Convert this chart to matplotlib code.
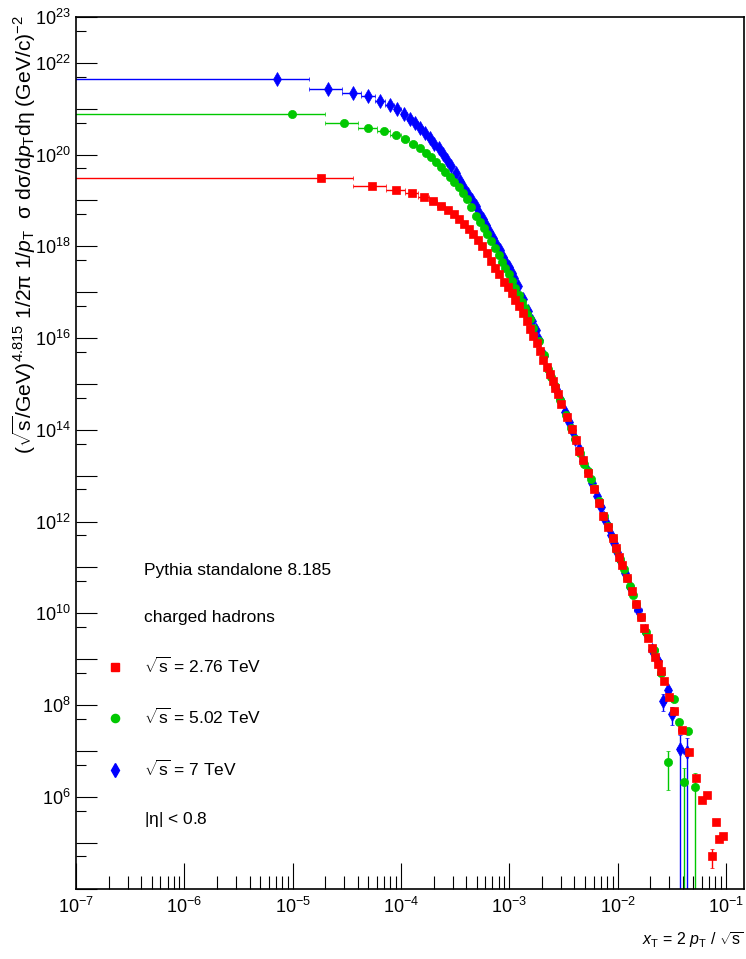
import numpy as np
import matplotlib
matplotlib.use('Agg')
import matplotlib.pyplot as plt
from matplotlib.lines import Line2D
from matplotlib.ticker import FixedLocator, FixedFormatter, LogLocator, NullFormatter

plt.rcParams['font.family'] = ['Liberation Sans', 'DejaVu Sans']
plt.rcParams['mathtext.fontset'] = 'custom'
plt.rcParams['mathtext.rm'] = 'Liberation Sans'
plt.rcParams['mathtext.it'] = 'Liberation Sans:italic'
plt.rcParams['mathtext.bf'] = 'Liberation Sans:bold'
plt.rcParams['mathtext.sf'] = 'Liberation Sans'

# pT bins (GeV/c), shared by all three energies
pt_center = [0.025, 0.075, 0.125, 0.175, 0.225, 0.275, 0.325, 0.375, 0.425, 0.475,
             0.53, 0.585, 0.645, 0.71, 0.78, 0.855, 0.935, 1.02, 1.12, 1.24,
             1.35, 1.46, 1.57, 1.71, 1.85, 2.0, 2.15, 2.3, 2.48, 2.65,
             2.85, 3.06, 3.28, 3.48, 3.68, 3.88, 4.18, 4.69, 5.2, 5.68,
             6.13, 6.6, 7.4, 8.4, 9.4, 10.2, 11.35, 12.4, 13.3, 14.2,
             15.3, 16.8, 18.7, 20.4, 22.6, 24.4, 26.5, 28.5, 30.6, 32.6,
             34.8, 37.1, 41.2, 45.9, 54.4, 63.1, 73.3, 83.2, 92.8, 103,
             112.5, 119.5, 131, 152]
pt_halfwidth = [0.025, 0.025, 0.025, 0.025, 0.025, 0.025, 0.025, 0.025, 0.025, 0.025,
                0.027, 0.028, 0.031, 0.034, 0.036, 0.038, 0.041, 0.045, 0.055, 0.058,
                0.055, 0.055, 0.06, 0.07, 0.07, 0.075, 0.075, 0.08, 0.09, 0.09,
                0.1, 0.1, 0.1, 0.1, 0.1, 0.12, 0.2, 0.25, 0.25, 0.24,
                0.23, 0.3, 0.45, 0.5, 0.45, 0.45, 0.55, 0.5, 0.45, 0.5,
                0.65, 0.85, 0.9, 0.95, 1.0, 1.0, 1.0, 1.0, 1.0, 1.1,
                1.1, 1.5, 2.2, 3.5, 4.3, 4.7, 5, 5, 5, 5,
                4, 4, 7, 12]

nan = np.nan
# log10 of the scaled cross section
log_y_276 = [19.50, 19.32, 19.23, 19.155, 19.07, 18.99, 18.89, 18.80, 18.70, 18.59,
             18.49, 18.38, 18.27, 18.14, 18.00, 17.85, 17.68, 17.53, 17.39, 17.23,
             17.12, 16.99, 16.84, 16.70, 16.54, 16.37, 16.20, 16.05, 15.90, 15.72,
             15.52, 15.37, 15.21, 15.07, 14.92, 14.79, 14.57, 14.28, 14.01, 13.77,
             13.54, 13.34, 13.06, 12.72, 12.41, 12.13, 11.88, 11.65, 11.43, 11.23,
             11.05, 10.78, 10.49, 10.20, 9.92, 9.67, 9.46, 9.25, 9.05, 8.89,
             8.74, 8.52, 8.17, 7.86, 7.45, 6.97, 6.42, 5.94, 6.03, 4.70,
             5.44, 5.09, 5.14, nan]
log_y_502 = [20.884, 20.688, 20.586, 20.509, 20.429, 20.339, 20.239, 20.136, 20.038, 19.938,
             19.838, 19.733, 19.622, 19.515, 19.401, 19.288, 19.161, 19.039, 18.865, 18.668,
             18.529, 18.392, 18.265, 18.112, 17.960, 17.805, 17.665, 17.532, 17.388, 17.251,
             17.085, 16.928, 16.784, 16.651, 16.527, 16.407, 16.224, 15.942, 15.64, 15.33,
             15.155, 14.956, 14.654, 14.319, 14.036, 13.798, 13.486, 13.259, 13.096, 12.926,
             12.727, 12.450, 12.112, 11.908, 11.639, 11.410, 11.174, 10.974, 10.773, 10.599,
             10.407, 10.210, 9.914, 9.585, 9.209, 8.692, 6.758, 8.141, 7.630, 6.322,
             7.434, nan, 6.213, nan]
log_y_7 = [21.648, 21.438, 21.353, 21.273, 21.174, 21.081, 20.991, 20.882, 20.784, 20.697,
           20.581, 20.479, 20.367, 20.241, 20.134, 20.010, 19.879, 19.752, 19.600, 19.430,
           19.281, 19.144, 19.017, 18.869, 18.725, 18.590, 18.457, 18.330, 18.187, 18.058,
           17.914, 17.776, 17.646, 17.543, 17.428, 17.310, 17.142, 16.858, 16.596, 16.370,
           16.173, 15.95, 15.60, 15.22, 14.90, 14.678, 14.396, 14.176, 13.997, 13.805,
           13.585, 13.323, 13.072, 12.841, 12.557, 12.324, 12.077, 11.903, 11.716, 11.530,
           11.334, 11.164, 10.871, 10.568, 10.063, 9.622, 9.199, 8.95, 8.089, 8.322,
           7.798, nan, 7.035, 6.976]

# relative stat. errors where visible (keyed by pT bin centre)
rel_err_276 = {103: 0.45, 119.5: 0.1, 131: 0.08}
rel_err_502 = {73.3: 0.75, 92.8: 0.1, 103: 1.05, 112.5: 0.12, 131: 1.05}
rel_err_7 = {83.2: 0.1, 92.8: 0.4, 103: 0.18, 112.5: 0.42, 131: 1.05, 152: 1.05}

series = [
    (7000, log_y_7, rel_err_7, '#0000ff', 'd', 7.0),
    (5020, log_y_502, rel_err_502, '#00c800', 'o', 5.9),
    (2760, log_y_276, rel_err_276, '#ff0000', 's', 5.6),
]

fig = plt.figure(figsize=(7.46, 9.59), dpi=100)
ax = fig.add_axes([0.1019, 0.0735, 0.8954, 0.9088])
ax.set_xscale('log')
ax.set_yscale('log')

pt = np.array(pt_center)
hw = np.array(pt_halfwidth)
handles = {}
for sqrt_s, logy, rel, col, mk, ms in series:
    x = 2 * pt / sqrt_s
    xe = 2 * hw / sqrt_s
    y = 10.0 ** np.array(logy)
    ye = np.array([rel.get(p, 0.0) for p in pt_center]) * y
    ax.errorbar(x, y, xerr=xe, yerr=ye, fmt=mk, color=col, ms=ms, mec=col, mew=0.5,
                ecolor=col, elinewidth=1.0, capsize=1.6, capthick=1.0)
    handles[sqrt_s] = Line2D([], [], ls='none', marker=mk, color=col, ms=ms, mec=col)

ax.set_xlim(1e-7, 0.147)
ax.set_ylim(1e4, 1e23)

# x ticks
ax.xaxis.set_major_locator(FixedLocator([10.0 ** k for k in range(-7, 0)]))
ax.xaxis.set_major_formatter(FixedFormatter([r'$10^{%d}$' % k for k in range(-7, 0)]))
ax.xaxis.set_minor_locator(LogLocator(base=10, subs=np.arange(2, 10), numticks=20))
ax.xaxis.set_minor_formatter(NullFormatter())

# y ticks: every decade, labels on even exponents + top
ymaj = list(range(4, 24))
ax.yaxis.set_major_locator(FixedLocator([10.0 ** k for k in ymaj]))
ax.yaxis.set_major_formatter(FixedFormatter(
    [r'$10^{%d}$' % k if (k % 2 == 0 and k >= 6) or k == 23 else '' for k in ymaj]))
ax.yaxis.set_minor_locator(FixedLocator([5 * 10.0 ** k for k in range(4, 23)]))
ax.yaxis.set_minor_formatter(NullFormatter())

ax.tick_params(axis='both', which='both', direction='in', top=False, right=False,
               width=0.8, labelsize=13)
ax.tick_params(axis='x', which='major', length=18.7, pad=6)
ax.tick_params(axis='x', which='minor', length=9.3)
ax.tick_params(axis='y', which='major', length=15, pad=4)
ax.tick_params(axis='y', which='minor', length=7.2)
for sp in ax.spines.values():
    sp.set_linewidth(1.2)

blank = Line2D([], [], ls='none', marker='')
leg_handles = [blank, blank, handles[2760], handles[5020], handles[7000], blank]
leg_labels = ['Pythia standalone 8.185', 'charged hadrons',
              r'$\sqrt{\mathrm{s}}$ = 2.76 TeV', r'$\sqrt{\mathrm{s}}$ = 5.02 TeV',
              r'$\sqrt{\mathrm{s}}$ = 7 TeV', r'$|\mathrm{\eta}|$ < 0.8']
fig.legend(leg_handles, leg_labels, loc='upper left', bbox_to_anchor=(106 / 746, 1 - 563 / 959),
           frameon=False, fontsize=12.5, handlelength=1.0, handletextpad=1.2,
           labelspacing=1.8, borderpad=0, borderaxespad=0)

ylabel = (r'$(\sqrt{\mathrm{s}}/\mathrm{GeV})^{4.815}\ 1/2\mathrm{\pi}\ 1/p_{\mathrm{T}}\ \ \mathrm{\sigma}\ '
          r'\mathrm{d\sigma}/\mathrm{d}p_{\mathrm{T}}\mathrm{d\eta}\ (\mathrm{GeV/c})^{-2}$')
fig.text(0.032, 1 - 15 / 959, ylabel, rotation=90, ha='center', va='top', fontsize=15.2)
fig.text(744 / 746, 1 - 940 / 959,
         r'$x_{\mathrm{T}}$ = 2 $p_{\mathrm{T}}$ / $\sqrt{\mathrm{s}}$',
         ha='right', va='center', fontsize=11.5)

fig.savefig('out.png', dpi=100)
